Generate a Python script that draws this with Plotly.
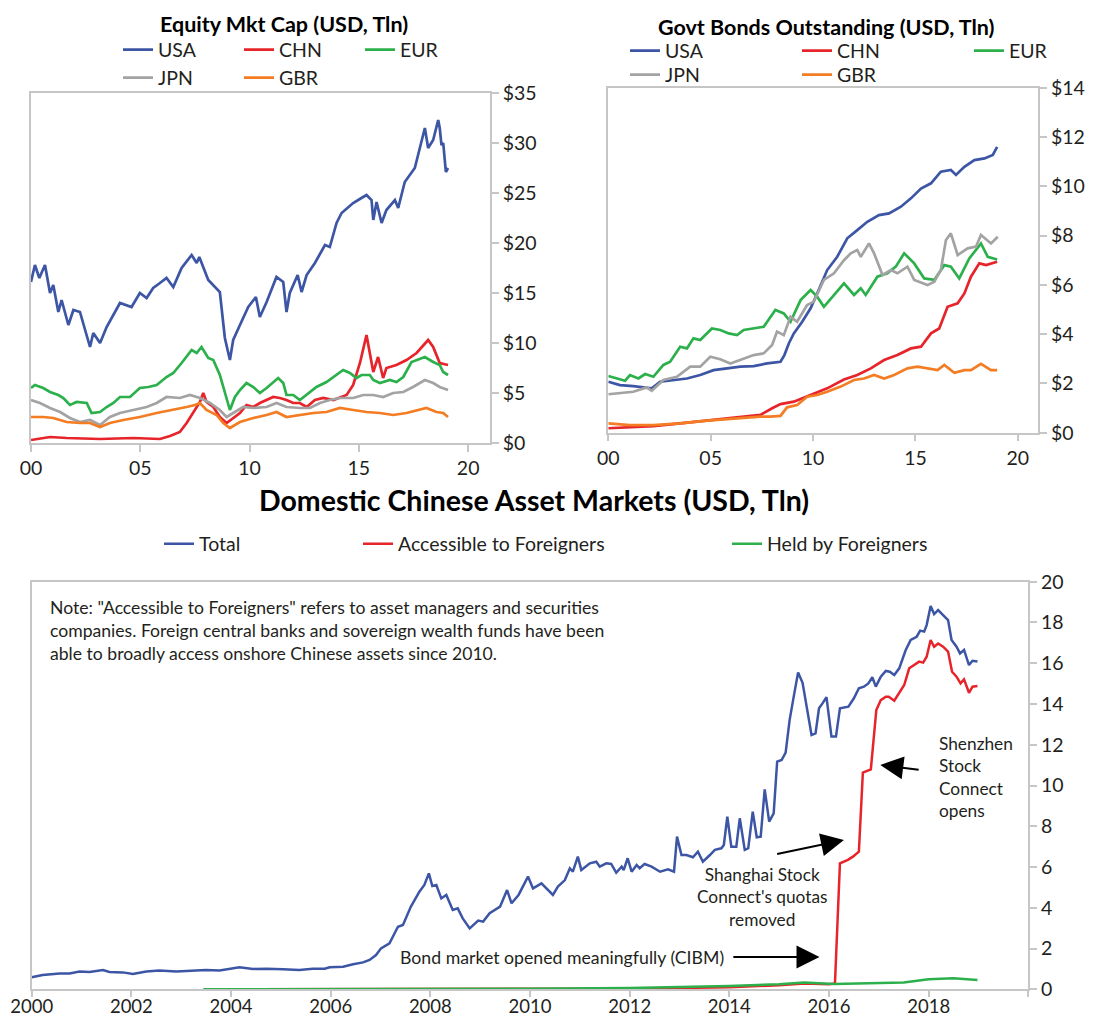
import plotly.graph_objects as go

# ---------------- DATA ----------------
# Top-left: Equity market cap (USD tln); x = years since 2000
eq_usa_t = [0.00,0.18,0.38,0.64,0.87,1.02,1.25,1.40,1.71,1.94,2.24,2.70,2.85,3.16,3.46,4.07,4.60,4.98,5.29,5.59,5.90,6.20,6.51,6.89,7.35,7.58,7.70,8.11,8.64,8.87,9.10,9.25,9.56,9.94,10.29,10.47,10.78,11.23,11.54,11.69,11.84,12.20,12.38,12.61,12.99,13.45,13.67,13.98,14.21,14.51,14.74,15.12,15.35,15.58,15.66,15.81,16.04,16.26,16.65,16.80,17.10,17.56,18.02,18.17,18.40,18.63,18.70,18.78,18.86,18.98,19.08]
eq_usa_v = [16.1,17.8,16.5,17.8,15.0,15.8,13.1,14.3,11.8,13.3,13.1,9.6,11.0,10.0,11.6,14.0,13.6,15.0,14.5,15.5,16.0,16.5,15.6,17.5,18.8,18.0,18.6,16.3,15.1,10.5,8.3,10.3,11.8,13.6,14.6,12.6,14.1,16.6,16.1,13.1,15.0,16.8,15.1,16.8,18.0,19.8,19.6,22.0,23.0,23.6,24.0,24.5,24.8,24.3,22.3,24.1,22.0,23.3,24.3,23.5,26.1,27.5,31.5,29.5,30.3,32.3,31.5,29.8,30.0,27.1,27.5]

eq_chn_t = [0.00,0.87,1.63,3.16,4.68,5.90,6.36,6.81,7.12,7.42,7.73,7.88,8.03,8.34,8.64,8.95,9.25,9.56,9.86,10.17,10.47,10.78,11.08,11.39,11.69,12.00,12.30,12.61,12.99,13.37,13.83,14.44,14.74,15.05,15.35,15.50,15.66,15.88,16.11,16.26,16.72,17.18,17.64,18.17,18.40,18.70,19.08]
eq_chn_v = [0.3,0.6,0.5,0.4,0.5,0.4,0.7,1.1,2.0,3.0,4.1,5.0,4.1,3.6,2.6,2.0,2.5,3.0,3.8,3.6,4.0,4.3,4.6,4.5,4.3,4.0,4.0,3.6,4.3,4.5,4.3,4.8,5.8,8.0,10.8,9.0,7.1,8.6,6.5,7.5,7.8,8.3,9.0,10.3,9.6,8.0,7.8]

eq_eur_t = [0.00,0.18,0.56,0.87,1.25,1.48,1.78,2.09,2.55,2.77,3.16,3.46,3.77,4.07,4.53,4.98,5.37,5.75,6.20,6.51,6.89,7.35,7.58,7.80,8.11,8.34,8.64,8.95,9.10,9.33,9.56,9.86,10.17,10.47,10.78,11.31,11.54,11.69,12.00,12.30,12.61,13.06,13.52,13.83,14.28,14.59,14.89,15.12,15.50,15.66,15.96,16.42,16.72,17.03,17.41,18.02,18.40,18.70,18.86,19.08]
eq_eur_v = [5.5,5.8,5.5,5.1,4.8,4.5,3.8,4.1,4.0,3.0,3.1,3.6,4.0,4.6,4.6,5.5,5.6,5.8,6.6,7.0,8.0,9.3,9.0,9.6,8.5,8.3,6.8,4.3,3.3,4.6,5.3,6.0,5.6,5.0,5.5,6.5,6.0,4.8,4.8,4.3,4.8,5.6,6.1,6.6,7.3,7.0,6.5,6.8,6.8,6.3,6.0,6.3,6.1,6.6,8.1,8.6,8.1,7.8,7.1,6.8]

eq_jpn_t = [0.00,0.41,0.87,1.33,1.78,2.24,2.70,3.16,3.61,4.07,4.68,5.29,5.75,6.20,6.81,7.27,7.73,8.19,8.64,8.95,9.25,9.71,10.17,10.78,11.23,11.69,12.30,12.76,13.22,13.67,14.13,14.74,15.20,15.66,16.11,16.57,17.03,17.48,18.02,18.40,18.70,19.08]
eq_jpn_v = [4.3,4.0,3.5,3.1,2.5,2.1,2.3,1.8,2.6,3.0,3.3,3.6,4.0,4.6,4.5,4.8,4.5,4.0,3.3,2.6,3.0,3.6,3.5,3.6,4.0,3.6,3.5,3.5,4.0,4.3,4.5,4.5,4.8,4.8,4.6,5.0,5.1,5.6,6.3,6.0,5.6,5.3]

eq_gbr_t = [0.00,0.56,1.02,1.63,2.24,2.70,3.16,3.61,4.22,4.98,5.75,6.51,7.12,7.50,7.73,8.03,8.49,8.80,9.10,9.56,10.17,10.78,11.23,11.69,12.30,12.91,13.52,14.13,14.74,15.35,15.96,16.57,17.18,17.79,18.09,18.55,18.86,19.08]
eq_gbr_v = [2.6,2.6,2.5,2.1,2.0,2.0,1.6,2.0,2.3,2.6,3.0,3.3,3.6,3.8,4.0,3.3,2.8,2.0,1.5,2.1,2.5,2.8,3.1,2.6,2.8,3.0,3.1,3.5,3.3,3.1,3.0,2.8,3.0,3.3,3.5,3.1,3.0,2.6]

# Top-right: Govt bonds outstanding (USD tln)
gb_usa_t = [0.00,0.57,1.22,1.71,2.12,2.53,3.18,3.84,4.49,5.14,5.80,6.45,7.10,7.76,8.41,8.60,8.82,9.06,9.47,9.88,10.20,10.69,11.18,11.67,12.16,12.65,13.22,13.71,14.29,14.78,15.27,15.76,16.24,16.73,16.98,17.39,17.88,18.37,18.78,18.99]
gb_usa_v = [2.07,1.93,1.89,1.84,1.80,2.07,2.14,2.20,2.34,2.54,2.61,2.68,2.70,2.81,2.88,3.15,3.63,4.03,4.50,5.05,5.65,6.60,7.14,7.89,8.22,8.56,8.83,8.90,9.17,9.51,9.91,10.12,10.59,10.66,10.46,10.79,11.06,11.13,11.27,11.60]

gb_chn_t = [0.00,1.06,2.20,3.51,4.82,6.12,7.43,8.00,8.41,9.06,9.88,10.69,11.51,12.16,12.82,13.47,14.12,14.78,15.27,15.76,16.16,16.57,17.06,17.39,17.71,18.12,18.45,18.78,18.99]
gb_chn_v = [0.18,0.22,0.27,0.38,0.49,0.58,0.72,0.99,1.16,1.26,1.53,1.80,2.16,2.34,2.61,2.95,3.15,3.42,3.49,4.03,4.23,5.11,5.25,5.65,6.33,6.87,6.80,6.87,6.94]

gb_eur_t = [0.00,0.41,0.82,1.06,1.47,1.80,2.20,2.69,3.02,3.51,3.84,4.16,4.49,5.06,5.47,5.88,6.29,6.61,7.10,7.59,8.16,8.57,8.90,9.06,9.39,9.88,10.20,10.53,11.02,11.51,12.00,12.33,12.57,13.14,13.63,14.04,14.45,14.94,15.43,15.92,16.41,16.73,17.14,17.63,18.20,18.53,18.99]
gb_eur_v = [2.30,2.20,2.11,2.34,2.20,2.38,2.27,2.75,2.88,3.49,3.42,3.83,3.76,4.23,4.17,4.03,3.96,4.17,4.23,4.30,4.98,4.84,4.50,4.77,5.38,5.79,5.52,5.11,5.59,6.06,5.59,5.86,5.59,6.33,6.47,6.74,7.28,6.87,6.26,6.20,6.80,6.74,6.26,7.07,7.68,7.14,7.03]

gb_jpn_t = [0.00,0.57,1.22,1.88,2.12,2.69,3.35,4.00,4.49,4.98,5.47,5.96,6.61,7.10,7.59,8.00,8.24,8.57,8.90,9.22,9.71,10.04,10.53,11.02,11.51,11.84,12.16,12.33,12.73,12.98,13.39,13.80,14.12,14.61,14.94,15.59,15.92,16.24,16.49,16.73,17.06,17.55,17.96,18.20,18.69,19.02]
gb_jpn_v = [1.56,1.60,1.66,1.84,1.70,2.14,2.27,2.68,2.68,3.08,2.98,2.81,3.02,3.15,3.22,3.56,4.10,3.96,4.71,4.50,5.18,5.32,6.20,6.47,7.00,7.28,7.41,7.14,7.68,7.28,6.40,6.60,6.47,6.74,6.20,5.99,6.13,6.60,7.82,8.09,7.21,7.48,7.55,8.02,7.68,7.95]

gb_gbr_t = [0.00,1.06,2.20,3.51,4.82,6.12,7.43,7.92,8.41,8.73,9.22,9.71,10.20,10.69,11.35,12.00,12.49,12.98,13.47,13.96,14.61,15.10,15.59,16.08,16.41,16.90,17.39,17.71,18.20,18.69,18.99]
gb_gbr_v = [0.38,0.31,0.31,0.38,0.49,0.58,0.65,0.65,0.68,1.03,1.12,1.46,1.53,1.66,1.87,2.14,2.20,2.34,2.20,2.34,2.61,2.68,2.61,2.54,2.75,2.43,2.54,2.54,2.79,2.54,2.54]

# Bottom: Domestic Chinese asset markets (USD tln)
cn_total_t = [2000.00,2000.22,2000.56,2000.76,2000.96,2001.16,2001.43,2001.56,2001.83,2002.03,2002.30,2002.56,2002.90,2003.23,2003.50,2003.77,2003.97,2004.17,2004.44,2004.71,2005.04,2005.37,2005.64,2005.88,2005.98,2006.25,2006.45,2006.65,2006.78,2006.91,2007.01,2007.18,2007.35,2007.45,2007.61,2007.78,2007.88,2007.97,2008.04,2008.12,2008.22,2008.32,2008.45,2008.55,2008.65,2008.79,2008.96,2009.06,2009.19,2009.40,2009.54,2009.63,2009.77,
              2009.96,2010.06,2010.23,2010.46,2010.56,2010.70,2010.80,2010.86,2010.96,2011.03,2011.20,2011.33,2011.40,2011.53,2011.63,2011.73,2011.84,2011.88,2011.96,2012.04,2012.14,2012.20,2012.30,2012.44,2012.61,2012.77,2012.89,2012.95,2013.04,2013.14,2013.27,2013.37,2013.47,2013.61,2013.71,2013.84,2013.89,2013.96,2014.04,2014.14,2014.21,2014.31,2014.38,2014.47,2014.55,2014.63,2014.71,2014.80,2014.89,2014.96,2015.05,2015.13,2015.21,2015.28,2015.38,2015.47,2015.55,2015.65,2015.73,2015.80,2015.87,2015.95,2016.05,2016.14,2016.22,2016.30,2016.39,2016.50,2016.60,2016.70,2016.79,2016.87,2016.94,2017.04,2017.14,2017.22,2017.31,2017.41,2017.54,2017.64,2017.76,2017.83,2017.91,2017.96,2018.04,2018.11,2018.19,2018.29,2018.39,2018.46,2018.56,2018.63,2018.71,2018.81,2018.88,2018.98]
cn_total_v = [0.59,0.70,0.78,0.78,0.87,0.85,0.95,0.85,0.83,0.75,0.87,0.92,0.87,0.92,0.95,0.92,1.00,1.08,1.00,1.01,0.98,0.95,1.01,1.01,1.08,1.11,1.23,1.32,1.44,1.68,2.01,2.26,3.07,3.16,4.06,4.79,5.12,5.69,5.07,5.12,4.46,4.63,3.89,3.97,3.48,2.99,3.37,3.32,3.73,4.06,4.87,4.22,4.63,
              5.53,4.95,5.20,4.63,5.04,5.36,5.94,5.77,6.51,5.85,6.18,6.26,6.02,6.18,6.15,5.72,6.02,5.85,6.43,5.77,6.10,5.94,6.15,6.02,5.77,5.89,5.77,7.49,6.59,6.59,6.48,6.75,6.26,6.59,6.84,6.92,7.08,8.47,7.00,7.00,8.39,6.84,6.92,8.72,7.46,7.49,9.81,8.23,8.63,11.17,11.25,11.61,13.21,14.19,15.54,15.04,13.87,12.48,12.56,13.79,14.03,14.33,12.40,12.40,13.79,13.83,13.87,14.28,14.77,14.85,15.01,15.31,14.85,15.34,15.62,15.58,15.42,15.75,16.65,17.14,17.30,17.60,17.55,17.87,18.81,18.41,18.61,18.36,18.12,17.14,16.81,16.48,16.65,15.91,16.12,16.08]

cn_access_t = [2003.45,2008.00,2010.00,2012.00,2013.00,2014.00,2015.00,2015.50,2016.00,2016.12,2016.22,2016.38,2016.48,2016.60,2016.68,2016.84,2016.95,2017.04,2017.14,2017.20,2017.31,2017.41,2017.51,2017.61,2017.71,2017.81,2017.89,2017.96,2018.04,2018.11,2018.19,2018.29,2018.39,2018.47,2018.56,2018.64,2018.71,2018.81,2018.88,2018.98]
cn_access_v = [0.00,0.00,0.01,0.03,0.06,0.10,0.20,0.28,0.25,0.29,6.18,6.35,6.51,6.75,10.63,10.79,13.70,14.19,14.36,14.36,14.16,14.52,14.93,15.75,15.91,16.08,16.03,16.32,17.14,16.81,16.97,16.81,16.57,15.58,15.34,15.01,15.21,14.55,14.85,14.88]

cn_held_t = [2003.45,2006.00,2008.00,2010.00,2012.00,2013.00,2014.00,2015.00,2015.50,2016.10,2016.50,2017.00,2017.50,2018.00,2018.50,2018.98]
cn_held_v = [0.00,0.00,0.01,0.03,0.06,0.10,0.16,0.25,0.33,0.26,0.28,0.29,0.33,0.49,0.54,0.46]

country_names = ["USA", "CHN", "EUR", "JPN", "GBR"]
cn_series_names = ["Total", "Accessible to Foreigners", "Held by Foreigners"]
top_x_tickvals = [0, 5, 10, 15, 20]
top_x_ticktext = ["00", "05", "10", "15", "20"]
eq_y_tickvals = [0, 5, 10, 15, 20, 25, 30, 35]
eq_y_ticktext = ["$0", "$5", "$10", "$15", "$20", "$25", "$30", "$35"]
gb_y_tickvals = [0, 2, 4, 6, 8, 10, 12, 14]
gb_y_ticktext = ["$0", "$2", "$4", "$6", "$8", "$10", "$12", "$14"]
cn_x_tickvals = [2000, 2002, 2004, 2006, 2008, 2010, 2012, 2014, 2016, 2018, 2020]
cn_x_ticktext = ["2000", "2002", "2004", "2006", "2008", "2010", "2012", "2014", "2016", "2018", ""]
cn_y_tickvals = [0, 2, 4, 6, 8, 10, 12, 14, 16, 18, 20]

# ---------------- STYLE ----------------
# page body has an 8px margin; the figure fills the rest of the 1096x1025 window
OFF = 8
W, H = 1096 - 2 * OFF, 1025 - 2 * OFF
FONT = "Lato"
TXT = "#231f20"
AX = "#c6c6c6"
COL = {"USA": "#3d55a5", "CHN": "#e6242a", "EUR": "#2cb04b", "JPN": "#a3a3a3", "GBR": "#f47c22"}
CN_COL = ["#3d55a5", "#e6242a", "#2cb04b"]

def fx(px):
    return (px - OFF) / W

def fy(py):
    return 1 - (py - OFF) / H

fig = go.Figure()

eq_data = [(eq_usa_t, eq_usa_v), (eq_chn_t, eq_chn_v), (eq_eur_t, eq_eur_v), (eq_jpn_t, eq_jpn_v), (eq_gbr_t, eq_gbr_v)]
gb_data = [(gb_usa_t, gb_usa_v), (gb_chn_t, gb_chn_v), (gb_eur_t, gb_eur_v), (gb_jpn_t, gb_jpn_v), (gb_gbr_t, gb_gbr_v)]

for i, name in enumerate(country_names):
    t, v = eq_data[i]
    fig.add_trace(go.Scatter(x=t, y=v, name=name, mode="lines", xaxis="x", yaxis="y",
                             line=dict(color=COL[name], width=2.7),
                             legend="legend" if i < 3 else "legend2"))
for i, name in enumerate(country_names):
    t, v = gb_data[i]
    fig.add_trace(go.Scatter(x=t, y=v, name=name, mode="lines", xaxis="x2", yaxis="y2",
                             line=dict(color=COL[name], width=2.7),
                             legend="legend3" if i < 3 else "legend4"))

cn_data = [(cn_total_t, cn_total_v), (cn_access_t, cn_access_v), (cn_held_t, cn_held_v)]
for i, name in enumerate(cn_series_names):
    t, v = cn_data[i]
    fig.add_trace(go.Scatter(x=t, y=v, name=name, mode="lines", xaxis="x3", yaxis="y3",
                             line=dict(color=CN_COL[i], width=2.5),
                             legend="legend%d" % (5 + i)))

axis_common = dict(showline=True, linecolor=AX, linewidth=1.5, mirror=True, showgrid=False,
                   zeroline=False, ticks="outside", tickcolor=AX, tickwidth=1.5, ticklen=7,
                   tickfont=dict(family=FONT, size=19.5, color=TXT), automargin=False, fixedrange=True)
axis_bottom = {**axis_common, "ticklen": 6, "ticklabelstandoff": -6,
               "tickfont": dict(family=FONT, size=18.5, color=TXT)}

fig.update_layout(
    width=W, height=H, autosize=False, margin=dict(l=0, r=0, t=0, b=0, pad=0, autoexpand=False),
    paper_bgcolor="white", plot_bgcolor="white",
    font=dict(family=FONT, color=TXT),
    xaxis=dict(domain=[fx(31), fx(490)], range=[0, 21], tickvals=top_x_tickvals, ticktext=top_x_ticktext,
               anchor="y", **axis_common),
    yaxis=dict(domain=[fy(443), fy(93)], range=[0, 35], tickvals=eq_y_tickvals, ticktext=eq_y_ticktext,
               side="right", anchor="x", **axis_common),
    xaxis2=dict(domain=[fx(608.3), fx(1038.3)], range=[0, 21], tickvals=top_x_tickvals, ticktext=top_x_ticktext,
                anchor="y2", **axis_common),
    yaxis2=dict(domain=[fy(432.7), fy(87.7)], range=[0, 14], tickvals=gb_y_tickvals, ticktext=gb_y_ticktext,
                side="right", anchor="x2", **axis_common),
    xaxis3=dict(domain=[fx(31.7), fx(1028.3)], range=[2000, 2020], tickvals=cn_x_tickvals, ticktext=cn_x_ticktext,
                anchor="y3", **axis_bottom),
    yaxis3=dict(domain=[fy(989.3), fy(581.7)], range=[0, 20], tickvals=cn_y_tickvals,
                side="right", anchor="x3", **axis_common),
)

leg_common = dict(orientation="h", bgcolor="rgba(0,0,0,0)", borderwidth=0,
                  font=dict(family=FONT, size=19.5, color=TXT), xanchor="left", yanchor="middle",
                  itemclick=False, itemdoubleclick=False, tracegroupgap=0)
fig.update_layout(
    legend=dict(x=fx(118), y=fy(50), entrywidth=76, **leg_common),
    legend2=dict(x=fx(118), y=fy(78), entrywidth=76, **leg_common),
    legend3=dict(x=fx(625), y=fy(51), entrywidth=127, **leg_common),
    legend4=dict(x=fx(625), y=fy(75), entrywidth=127, **leg_common),
    legend5=dict(x=fx(159), y=fy(544), **leg_common),
    legend6=dict(x=fx(358), y=fy(544), **leg_common),
    legend7=dict(x=fx(727), y=fy(544), **leg_common),
)

annos = []
# titles
annos.append(dict(text="<b>Equity Mkt Cap (USD, Tln)</b>", x=fx(284), y=fy(24), xref="paper", yref="paper",
                  showarrow=False, xanchor="center", yanchor="middle", font=dict(family=FONT, size=21.5, color="black")))
annos.append(dict(text="<b>Govt Bonds Outstanding (USD, Tln)</b>", x=fx(826), y=fy(27), xref="paper", yref="paper",
                  showarrow=False, xanchor="center", yanchor="middle", font=dict(family=FONT, size=21.5, color="black")))
annos.append(dict(text="<b>Domestic Chinese Asset Markets (USD, Tln)</b>", x=fx(534), y=fy(500), xref="paper", yref="paper",
                  showarrow=False, xanchor="center", yanchor="middle", font=dict(family=FONT, size=28.5, color="black")))
# note
annos.append(dict(text="Note: \"Accessible to Foreigners\" refers to asset managers and securities<br>"
                       "companies. Foreign central banks and sovereign wealth funds have been<br>"
                       "able to broadly access onshore Chinese assets since 2010.",
                  x=fx(48), y=fy(595), xref="paper", yref="paper", showarrow=False, align="left",
                  xanchor="left", yanchor="top", font=dict(family=FONT, size=17.6, color=TXT)))
# event labels
annos.append(dict(text="Bond market opened meaningfully (CIBM)", x=2007.36, y=1.58, xref="x3", yref="y3",
                  showarrow=False, xanchor="left", yanchor="middle", font=dict(family=FONT, size=17.7, color=TXT)))
annos.append(dict(text="Shanghai Stock<br>Connect's quotas<br>removed", x=2014.66, y=4.53, xref="x3", yref="y3",
                  showarrow=False, xanchor="center", yanchor="middle", align="center",
                  font=dict(family=FONT, size=17.3, color=TXT)))
annos.append(dict(text="Shenzhen<br>Stock<br>Connect<br>opens", x=2018.16, y=10.42, xref="x3", yref="y3",
                  showarrow=False, xanchor="left", yanchor="middle", align="left",
                  font=dict(family=FONT, size=17.3, color=TXT)))
# arrows (head at x,y; tail at ax,ay)
for (hx, hy, tx, ty) in [(2015.81, 1.58, 2014.05, 1.58), (2016.30, 7.33, 2014.93, 6.62), (2017.03, 11.01, 2017.83, 10.76)]:
    annos.append(dict(text="", x=hx, y=hy, ax=tx, ay=ty, xref="x3", yref="y3", axref="x3", ayref="y3",
                      showarrow=True, arrowhead=2, arrowsize=2.3, arrowwidth=2, arrowcolor="black", standoff=0))
fig.update_layout(annotations=annos)

fig.write_html("out.html")
